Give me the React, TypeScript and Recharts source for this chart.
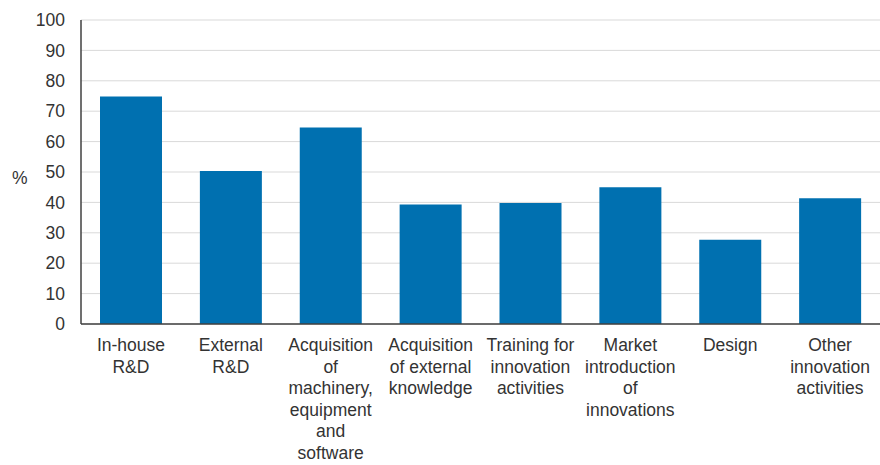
import { BarChart, Bar, XAxis, YAxis, CartesianGrid } from "recharts"

const categories = [
  "In-house R&D",
  "External R&D",
  "Acquisition of machinery, equipment and software",
  "Acquisition of external knowledge",
  "Training for innovation activities",
  "Market introduction of innovations",
  "Design",
  "Other innovation activities",
]

// wrapped tick labels, one array of lines per category
const tickLines = [
  ["In-house", "R&D"],
  ["External", "R&D"],
  ["Acquisition", "of", "machinery,", "equipment", "and", "software"],
  ["Acquisition", "of external", "knowledge"],
  ["Training for", "innovation", "activities"],
  ["Market", "introduction", "of", "innovations"],
  ["Design"],
  ["Other", "innovation", "activities"],
]

const shares = [74.8, 50.3, 64.6, 39.3, 39.8, 45.0, 27.7, 41.4]

const yTicks = [0, 10, 20, 30, 40, 50, 60, 70, 80, 90, 100]

const data = categories.map((c, i) => ({ name: c, value: shares[i], lines: tickLines[i] }))

const FONT = "'Liberation Sans', Arial, sans-serif"

function WrappedTick(props: any) {
  const { x, y, index } = props
  const lines = tickLines[index] || []
  return (
    <text x={x} y={y} textAnchor="middle" fill="#333" fontSize={17.5} fontFamily={FONT}>
      {lines.map((l, i) => (
        <tspan key={i} x={x} dy={i === 0 ? 19 : 21.5}>{l}</tspan>
      ))}
    </text>
  )
}

export default function App() {
  return (
    <div style={{ position: "absolute", left: 0, top: 0, background: "#fff" }}>
      <BarChart
        width={880}
        height={465}
        data={data}
        margin={{ top: 20, right: 0, left: 0, bottom: 0 }}
      >
        <CartesianGrid vertical={false} stroke="#d9d9d9" strokeWidth={1} />
        <XAxis
          dataKey="name"
          interval={0}
          height={141}
          tickLine={false}
          axisLine={{ stroke: "#404040", strokeWidth: 1.5 }}
          tick={<WrappedTick />}
        />
        <YAxis
          width={81}
          domain={[0, 100]}
          ticks={yTicks}
          interval={0}
          tickLine={false}
          tickSize={6}
          tickMargin={10}
          axisLine={{ stroke: "#404040", strokeWidth: 1.5 }}
          tick={{ fill: "#333", fontSize: 17.5, fontFamily: FONT }}
          label={{ value: "%", position: "insideLeft", offset: 12, dy: 6, fill: "#333", fontSize: 17.5, fontFamily: FONT }}
        />
        <Bar dataKey="value" fill="#0070b0" barSize={62} isAnimationActive={false} />
      </BarChart>
    </div>
  )
}
